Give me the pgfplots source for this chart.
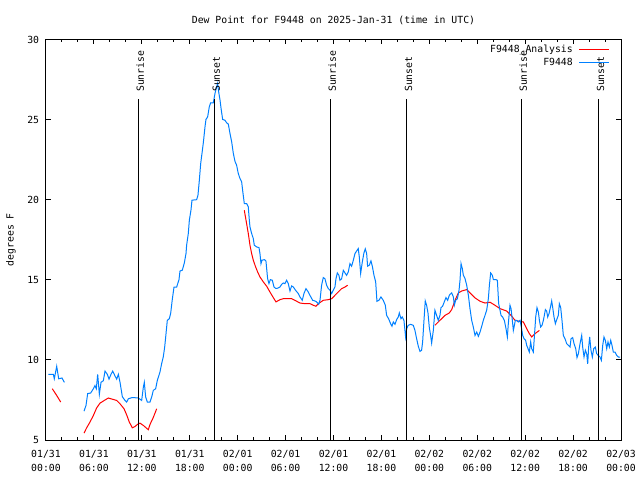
\documentclass[border=0pt]{standalone}
\usepackage{fontspec}
\setmainfont{DejaVu Sans Mono}
\usepackage{pgfplots}
\pgfplotsset{compat=1.18}
\definecolor{dpblue}{HTML}{0080FF}
\definecolor{dpred}{HTML}{FF0000}
\begin{document}
\fontsize{9.8bp}{14bp}\selectfont
\begin{tikzpicture}
\useasboundingbox (0,0) rectangle (640bp,480bp);
\begin{axis}[
  at={(46bp,40bp)}, anchor=south west,
  scale only axis, width=575bp, height=400.5bp,
  xmin=0, xmax=72, ymin=5, ymax=30,
  axis line style={line width=1bp},
  every tick/.style={black, line width=1bp},
  major tick length=5bp, minor tick length=3bp,
  xtick={0,6,...,72},
  xticklabels={{01/31\\00:00},{01/31\\06:00},{01/31\\12:00},{01/31\\18:00},{02/01\\00:00},{02/01\\06:00},{02/01\\12:00},{02/01\\18:00},{02/02\\00:00},{02/02\\06:00},{02/02\\12:00},{02/02\\18:00},{02/03\\00:00}},
  minor x tick num=2,
  ytick={5,10,...,30},
  xticklabel style={align=center, font=\fontsize{9.8bp}{14bp}\selectfont, yshift=-7bp},
  yticklabel style={xshift=-3.4bp},
  /pgf/number format/assume math mode=true,
  unbounded coords=jump,
  title={Dew Point for F9448 on 2025-Jan-31 (time in UTC)},
  title style={at={(0.5,1)}, anchor=base, yshift=10.5bp, inner sep=0pt},
  ylabel={degrees F},
  ylabel style={at={(axis description cs:-0.0565,0.5)}, anchor=base, inner sep=0pt},
]
\addplot[dpred, line width=1bp] coordinates {
(0.79,8.2)(1.34,7.78)(1.84,7.37)(3,nan)
(4.76,5.43)(5.09,5.76)(5.51,6.12)(5.93,6.53)(6.34,7.0)(6.76,7.3)(7.30,7.47)(7.80,7.62)(8.43,7.53)(8.85,7.47)(9.27,7.26)(9.77,6.95)(10.10,6.57)(10.43,6.12)(10.81,5.76)(11.14,5.84)(11.44,5.97)(11.77,6.05)(12.19,5.91)(12.81,5.64)(13.02,5.97)(13.36,6.32)(13.65,6.68)(13.86,6.95)(20,nan)
(24.83,19.34)(25.12,18.51)(25.33,17.89)(25.54,17.16)(25.75,16.64)(25.96,16.22)(26.25,15.80)(26.50,15.49)(26.79,15.18)(27.21,14.87)(27.63,14.60)(28.04,14.24)(28.46,13.89)(28.80,13.62)(29.30,13.76)(29.71,13.82)(30.21,13.82)(30.76,13.82)(31.17,13.72)(31.80,13.55)(32.43,13.51)(33.05,13.51)(33.47,13.41)(33.80,13.35)(34.10,13.51)(34.72,13.72)(35.35,13.76)(35.77,13.82)(36.18,14.03)(36.60,14.24)(37.02,14.45)(37.44,14.55)(37.77,14.66)(40,nan)
(48.70,12.16)(49.33,12.47)(49.96,12.78)(50.50,12.93)(50.80,13.14)(51.22,13.72)(51.63,14.18)(52.05,14.30)(52.68,14.39)(53.18,14.14)(53.72,13.87)(54.35,13.66)(54.97,13.55)(55.60,13.60)(56.22,13.41)(56.85,13.20)(57.69,13.05)(58.23,12.78)(58.73,12.47)(59.27,12.41)(59.77,12.37)(60.19,11.95)(60.52,11.64)(60.82,11.43)(61.23,11.64)(61.78,11.84)
};
\addplot[dpblue, line width=1bp] coordinates {
(0.29,9.1)(0.92,9.1)(1.04,8.82)(1.34,9.6)(1.59,8.82)(2.00,8.87)(2.30,8.6)(3,nan)
(4.76,6.8)(5.01,7.16)(5.22,7.9)(5.59,7.93)(5.93,8.2)(6.13,8.4)(6.30,8.2)(6.47,9.1)(6.68,7.85)(6.89,8.6)(7.18,8.7)(7.39,9.3)(7.68,9.1)(7.89,8.8)(8.14,9.1)(8.35,9.3)(8.64,9.0)(8.85,8.8)(9.06,9.1)(9.27,8.6)(9.56,7.7)(9.89,7.47)(10.10,7.37)(10.31,7.57)(10.73,7.64)(11.14,7.64)(11.56,7.62)(11.98,7.47)(12.19,8.3)(12.31,8.6)(12.48,7.68)(12.69,7.37)(13.02,7.37)(13.23,7.68)(13.44,8.1)(13.73,8.2)(13.94,8.72)(14.27,9.24)(14.48,9.76)(14.69,10.2)(14.86,10.8)(15.02,11.6)(15.19,12.47)(15.44,12.57)(15.61,12.9)(15.82,13.8)(16.03,14.55)(16.36,14.55)(16.65,15.0)(16.78,15.55)(17.07,15.6)(17.32,16.05)(17.53,16.64)(17.61,17.16)(17.82,17.9)(17.95,18.72)(18.15,19.34)(18.28,19.97)(18.86,20.0)(19.03,20.28)(19.20,21.21)(19.37,22.26)(19.53,22.88)(19.70,23.55)(19.91,24.55)(20.03,25.01)(20.24,25.17)(20.45,25.80)(20.62,26.05)(20.95,26.05)(21.16,26.63)(21.37,27.05)(21.49,27.26)(21.62,26.74)(21.79,26.22)(21.95,25.59)(22.12,25.01)(22.41,24.96)(22.62,24.80)(22.83,24.72)(23.04,24.13)(23.25,23.61)(23.46,22.88)(23.66,22.40)(23.87,22.15)(24.08,21.63)(24.29,21.32)(24.50,21.11)(24.62,20.59)(24.83,19.76)(25.12,19.76)(25.33,19.55)(25.46,18.72)
(25.54,18.30)(25.75,17.89)(25.96,17.57)(26.08,17.16)(26.38,17.05)(26.67,17.01)(26.79,16.64)(26.92,16.01)(27.04,16.22)(27.34,16.26)(27.54,16.18)(27.75,15.07)(27.92,14.76)(28.09,15.01)(28.34,14.97)(28.55,14.55)(28.75,14.47)(28.96,14.47)(29.30,14.55)(29.51,14.72)(29.71,14.80)(29.92,14.76)(30.13,14.97)(30.34,14.76)(30.55,14.30)(30.76,14.62)(30.97,14.55)(31.26,14.34)(31.59,14.14)(31.80,13.93)(32.09,13.72)(32.30,14.14)(32.55,14.45)(32.84,14.24)(33.05,14.03)(33.39,13.72)(33.68,13.68)(33.89,13.62)(34.14,13.47)(34.31,13.72)(34.51,14.66)(34.72,15.14)(34.93,15.07)(35.14,14.66)(35.35,14.45)(35.56,14.35)(35.77,14.14)(35.97,14.35)(36.18,14.55)(36.31,15.07)(36.48,15.43)(36.68,15.28)(36.81,14.97)(37.02,15.07)(37.23,15.59)(37.44,15.43)(37.64,15.28)(37.85,15.49)(38.06,16.01)(38.27,15.85)(38.48,16.22)(38.69,16.64)(38.90,16.80)(39.10,16.95)(39.23,16.43)(39.40,15.39)(39.61,16.12)(39.81,16.68)(39.98,16.93)(40.15,16.64)(40.27,15.85)(40.48,15.91)(40.69,16.18)(40.86,15.85)(41.07,15.28)(41.28,14.87)(41.44,13.66)(41.69,13.72)(41.94,13.93)(42.23,13.72)(42.49,13.41)(42.65,12.78)(42.90,12.57)(43.15,12.26)(43.32,12.10)(43.49,12.37)(43.70,12.22)(43.90,12.51)(44.11,12.68)(44.24,12.93)(44.45,12.57)(44.61,12.68)(44.82,12.47)(45.03,11.43)(45.16,11.95)(45.36,12.16)(45.66,12.22)(45.99,12.16)(46.20,11.84)(46.41,11.32)(46.62,10.85)(46.83,10.53)(47.03,10.60)(47.16,11.12)(47.33,12.47)(47.49,13.68)(47.66,13.41)(47.83,12.93)(47.99,12.05)(48.16,11.53)(48.29,11.05)(48.50,11.84)(48.70,13.10)(48.91,12.78)(49.12,12.47)(49.33,12.78)(49.46,13.26)(49.66,13.35)(49.87,13.62)(50.08,13.89)(50.29,13.72)(50.50,14.03)(50.59,14.09)
(50.80,14.18)(51.01,13.93)(51.13,13.41)(51.30,13.72)(51.51,13.82)(51.72,14.35)(51.84,14.97)(51.97,16.01)(52.13,15.70)(52.26,15.28)(52.47,15.07)(52.68,14.66)(52.89,14.03)(53.09,13.20)(53.30,12.47)(53.51,12.05)(53.72,11.53)(53.93,11.74)(54.14,11.47)(54.35,11.74)(54.56,12.10)(54.76,12.47)(54.97,12.78)(55.18,13.10)(55.39,13.82)(55.52,14.66)(55.68,15.43)(55.89,15.28)(56.02,15.01)(56.35,15.01)(56.52,14.97)(56.68,13.51)(56.85,13.10)(56.98,12.78)(57.18,12.68)(57.39,12.47)(57.60,11.95)(57.77,11.43)(57.89,12.26)(58.10,13.41)(58.23,13.20)(58.35,12.68)(58.52,11.84)(58.65,12.16)(58.77,12.47)(58.94,12.47)(59.15,12.37)(59.36,12.47)(59.52,12.05)(59.69,11.53)(59.86,11.32)(60.06,11.22)(60.19,10.91)(60.36,10.70)(60.52,10.49)(60.69,11.12)(60.82,10.70)(61.02,10.49)(61.15,11.43)(61.32,12.68)(61.48,13.26)(61.65,12.99)(61.78,12.47)(61.94,12.05)(62.11,12.16)(62.28,12.47)(62.40,12.78)(62.53,13.14)(62.69,13.05)(62.82,12.68)(62.99,12.89)(63.15,13.26)(63.32,13.68)(63.45,13.26)(63.61,12.68)(63.78,12.26)(63.95,12.51)(64.15,12.78)(64.28,13.51)(64.45,13.26)(64.61,12.47)(64.78,11.53)(64.99,11.32)(65.20,11.01)(65.41,10.91)(65.62,10.80)(65.74,11.32)(65.95,11.39)(66.12,11.01)(66.33,10.70)(66.49,10.14)(66.66,10.39)(66.87,11.01)(67.08,11.53)(67.20,10.80)(67.37,10.18)(67.54,10.60)(67.70,10.39)(67.83,9.76)(67.95,10.80)(68.08,11.43)(68.24,10.60)(68.41,10.18)(68.58,10.70)(68.79,10.80)(68.95,10.39)(69.16,10.28)(69.37,10.18)(69.54,9.97)(69.71,10.91)(69.87,11.43)(70.04,11.22)(70.21,10.70)(70.37,11.12)(70.54,10.80)(70.71,11.22)(70.87,10.91)(71.04,10.49)(71.25,10.49)(71.46,10.28)(71.67,10.18)(71.88,10.18)
};
\addplot[black, line width=1bp] coordinates {(11.56,5)(11.56,26.28)};
\addplot[black, line width=1bp] coordinates {(21.08,5)(21.08,26.28)};
\addplot[black, line width=1bp] coordinates {(35.60,5)(35.60,26.28)};
\addplot[black, line width=1bp] coordinates {(45.17,5)(45.17,26.28)};
\addplot[black, line width=1bp] coordinates {(59.52,5)(59.52,26.28)};
\addplot[black, line width=1bp] coordinates {(69.20,5)(69.20,26.28)};
\node[rotate=90, anchor=base west, inner sep=0pt] at ([xshift=5.5bp]axis cs:11.56,26.72) {Sunrise};
\node[rotate=90, anchor=base west, inner sep=0pt] at ([xshift=5.5bp]axis cs:21.08,26.72) {Sunset};
\node[rotate=90, anchor=base west, inner sep=0pt] at ([xshift=5.5bp]axis cs:35.60,26.72) {Sunrise};
\node[rotate=90, anchor=base west, inner sep=0pt] at ([xshift=5.5bp]axis cs:45.17,26.72) {Sunset};
\node[rotate=90, anchor=base west, inner sep=0pt] at ([xshift=5.5bp]axis cs:59.52,26.72) {Sunrise};
\node[rotate=90, anchor=base west, inner sep=0pt] at ([xshift=5.5bp]axis cs:69.20,26.72) {Sunset};
% legend
\node[anchor=base east, inner sep=0pt] at (rel axis cs:0.9165,0.9675) {F9448\_Analysis};
\node[anchor=base east, inner sep=0pt] at (rel axis cs:0.9165,0.9351) {F9448};
\draw[dpred, line width=1bp] (rel axis cs:0.9270,0.9755) -- (rel axis cs:0.9791,0.9755);
\draw[dpblue, line width=1bp] (rel axis cs:0.9270,0.9431) -- (rel axis cs:0.9791,0.9431);
\end{axis}
\end{tikzpicture}
\end{document}
